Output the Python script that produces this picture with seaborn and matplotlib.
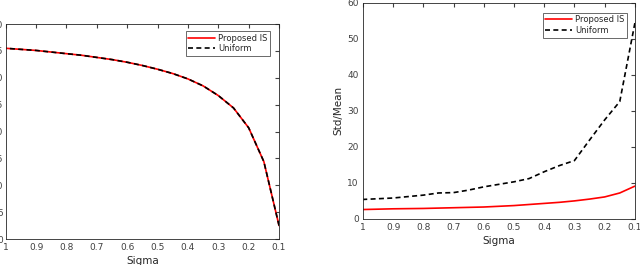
"""
Proposed IS vs Uniform sampling over sigma
"""

import pandas as pd
import matplotlib
matplotlib.use("Agg")
import matplotlib.pyplot as plt
import seaborn as sns

sns.set_style("white")
plt.rcParams['font.family'] = ['DejaVu Sans']

# Data
sigma = [1.0, 0.95, 0.9, 0.85, 0.8, 0.75, 0.7, 0.65, 0.6, 0.55,
         0.5, 0.45, 0.4, 0.35, 0.3, 0.25, 0.2, 0.15, 0.1]

left_proposed = [35.5, 35.3, 35.1, 34.8, 34.5, 34.2, 33.8, 33.4, 32.9, 32.3,
                 31.6, 30.8, 29.8, 28.5, 26.7, 24.4, 20.7, 14.4, 2.5]
left_uniform = left_proposed  # both curves overlap in the left panel

right_proposed = [2.6, 2.7, 2.8, 2.85, 2.9, 3.0, 3.1, 3.2, 3.3, 3.5,
                  3.7, 4.0, 4.3, 4.6, 5.0, 5.5, 6.1, 7.2, 9.1]
right_uniform = [5.4, 5.6, 5.8, 6.2, 6.6, 7.2, 7.3, 8.0, 8.9, 9.6,
                 10.3, 11.2, 13.1, 14.8, 16.2, 21.9, 27.5, 32.6, 54.4]

x_ticks = [1, 0.9, 0.8, 0.7, 0.6, 0.5, 0.4, 0.3, 0.2, 0.1]
x_ticklabels = ['1', '0.9', '0.8', '0.7', '0.6', '0.5', '0.4', '0.3', '0.2', '0.1']
left_yticks = [0, 5, 10, 15, 20, 25, 30, 35, 40]
right_yticks = [0, 10, 20, 30, 40, 50, 60]

series = ['Proposed IS', 'Uniform']
palette = {'Proposed IS': 'red', 'Uniform': 'black'}
dashes = {'Proposed IS': '', 'Uniform': (3, 2)}


def long_frame(proposed, uniform):
    return pd.DataFrame({
        'Sigma': sigma * 2,
        'value': proposed + uniform,
        'method': ['Proposed IS'] * len(sigma) + ['Uniform'] * len(sigma),
    })


def style_axes(ax, ylim, yticks, legend_anchor):
    ax.set_xlim(1, 0.1)
    ax.set_ylim(*ylim)
    ax.set_xticks(x_ticks)
    ax.set_xticklabels(x_ticklabels)
    ax.set_yticks(yticks)
    ax.tick_params(direction='in', length=3, labelsize=6.5, colors='#404040',
                   top=True, right=True, pad=3)
    for s in ax.spines.values():
        s.set_color('#262626')
        s.set_linewidth(0.6)
    ax.set_xlabel('Sigma', fontsize=7.5, color='#262626', labelpad=3)
    leg = ax.legend(loc='upper right', bbox_to_anchor=legend_anchor,
                    fontsize=6, frameon=True, fancybox=False, handlelength=3.2,
                    borderpad=0.3, labelspacing=0.2, handletextpad=0.4,
                    borderaxespad=0)
    leg.get_frame().set_edgecolor('#262626')
    leg.get_frame().set_linewidth(0.6)


fig = plt.figure(figsize=(6.4, 2.65), dpi=100)
ax1 = fig.add_axes([0.009, 0.098, 0.427, 0.811])
ax2 = fig.add_axes([0.567, 0.174, 0.425, 0.815])

sns.lineplot(data=long_frame(left_proposed, left_uniform), x='Sigma', y='value',
             hue='method', style='method', hue_order=series, style_order=series,
             palette=palette, dashes=dashes, linewidth=1.2, ax=ax1)
style_axes(ax1, (0, 40), left_yticks, (0.967, 0.967))
ax1.set_ylabel('')
ax1.tick_params(axis='y', pad=2)

sns.lineplot(data=long_frame(right_proposed, right_uniform), x='Sigma', y='value',
             hue='method', style='method', hue_order=series, style_order=series,
             palette=palette, dashes=dashes, linewidth=1.2, ax=ax2)
style_axes(ax2, (0, 60), right_yticks, (0.971, 0.954))
ax2.set_ylabel('Std/Mean', fontsize=7.5, color='#262626', labelpad=3)

fig.savefig('out.png', dpi=100)
